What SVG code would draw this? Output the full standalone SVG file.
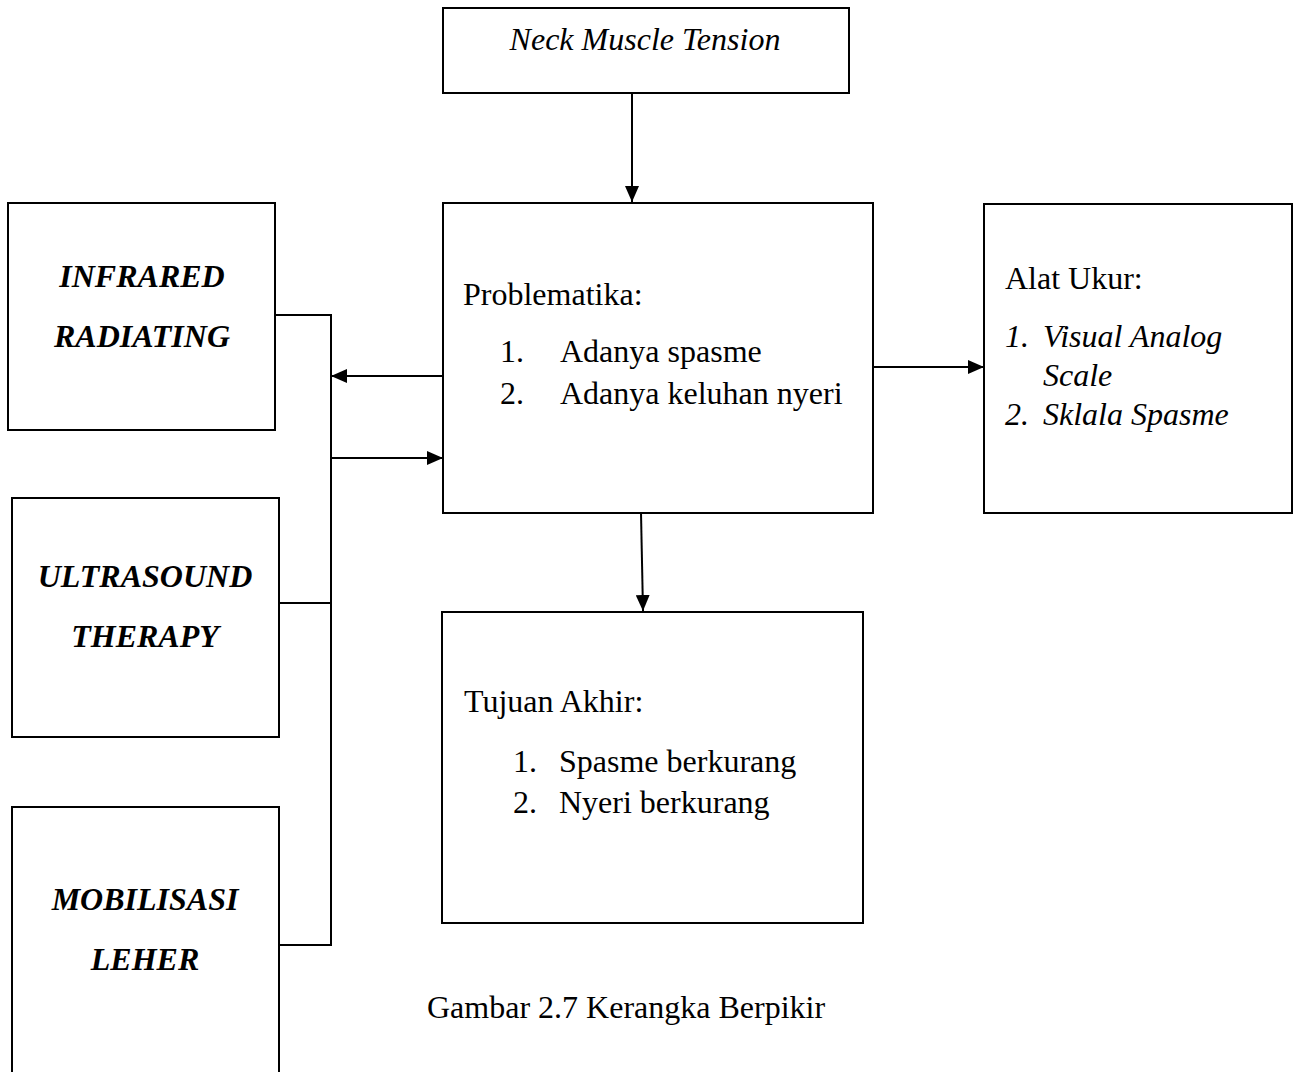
<svg xmlns="http://www.w3.org/2000/svg" width="1294" height="1072" viewBox="0 0 1294 1072">
<style>
.box{fill:#fff;stroke:#000;stroke-width:2}
.ln{fill:none;stroke:#000;stroke-width:2}
text{font-family:"Liberation Serif","Times New Roman",serif;font-size:32px;fill:#000}
.bi{font-weight:bold;font-style:italic}
.i{font-style:italic}
</style>
<defs>
<marker id="ah" viewBox="0 0 16 14" refX="16" refY="7" markerWidth="16" markerHeight="14" markerUnits="userSpaceOnUse" orient="auto">
<path d="M0,0 L16,7 L0,14 Z" fill="#000"/>
</marker>
</defs>
<rect width="1294" height="1072" fill="#fff"/>
<g id="connectors">
<line class="ln" x1="632" y1="93" x2="632" y2="202" marker-end="url(#ah)"/>
<line class="ln" x1="873" y1="367" x2="984" y2="367" marker-end="url(#ah)"/>
<line class="ln" x1="443" y1="376" x2="331" y2="376" marker-end="url(#ah)"/>
<line class="ln" x1="331" y1="458" x2="443" y2="458" marker-end="url(#ah)"/>
<polyline class="ln" points="275,315 331,315 331,945 279,945"/>
<line class="ln" x1="279" y1="603" x2="331" y2="603"/>
<line class="ln" x1="641" y1="513" x2="643" y2="611" marker-end="url(#ah)"/>
</g>
<g id="neck">
<rect class="box" x="443" y="8" width="406" height="85"/>
<text class="i" x="645" y="50" text-anchor="middle">Neck Muscle Tension</text>
</g>
<g id="infrared">
<rect class="box" x="8" y="203" width="267" height="227"/>
<text class="bi" x="142" y="287" text-anchor="middle">INFRARED</text>
<text class="bi" x="142" y="347" text-anchor="middle">RADIATING</text>
</g>
<g id="ultrasound">
<rect class="box" x="12" y="498" width="267" height="239"/>
<text class="bi" x="145" y="587" text-anchor="middle">ULTRASOUND</text>
<text class="bi" x="145" y="647" text-anchor="middle">THERAPY</text>
</g>
<g id="mobilisasi">
<rect class="box" x="12" y="807" width="267" height="280"/>
<text class="bi" x="145" y="910" text-anchor="middle">MOBILISASI</text>
<text class="bi" x="145" y="970" text-anchor="middle">LEHER</text>
</g>
<g id="problematika">
<rect class="box" x="443" y="203" width="430" height="310"/>
<text x="463" y="305">Problematika:</text>
<text x="500" y="362">1.</text>
<text x="560" y="362">Adanya spasme</text>
<text x="500" y="404">2.</text>
<text x="560" y="404">Adanya keluhan nyeri</text>
</g>
<g id="alat">
<rect class="box" x="984" y="204" width="308" height="309"/>
<text x="1005" y="289">Alat Ukur:</text>
<text class="i" x="1005" y="347">1.</text>
<text class="i" x="1043" y="347">Visual Analog</text>
<text class="i" x="1043" y="386">Scale</text>
<text class="i" x="1005" y="425">2.</text>
<text class="i" x="1043" y="425">Sklala Spasme</text>
</g>
<g id="tujuan">
<rect class="box" x="442" y="612" width="421" height="311"/>
<text x="464" y="712">Tujuan Akhir:</text>
<text x="513" y="772">1.</text>
<text x="559" y="772">Spasme berkurang</text>
<text x="513" y="813">2.</text>
<text x="559" y="813">Nyeri berkurang</text>
</g>
<g id="caption">
<text x="427" y="1018">Gambar 2.7 Kerangka Berpikir</text>
</g>
</svg>
